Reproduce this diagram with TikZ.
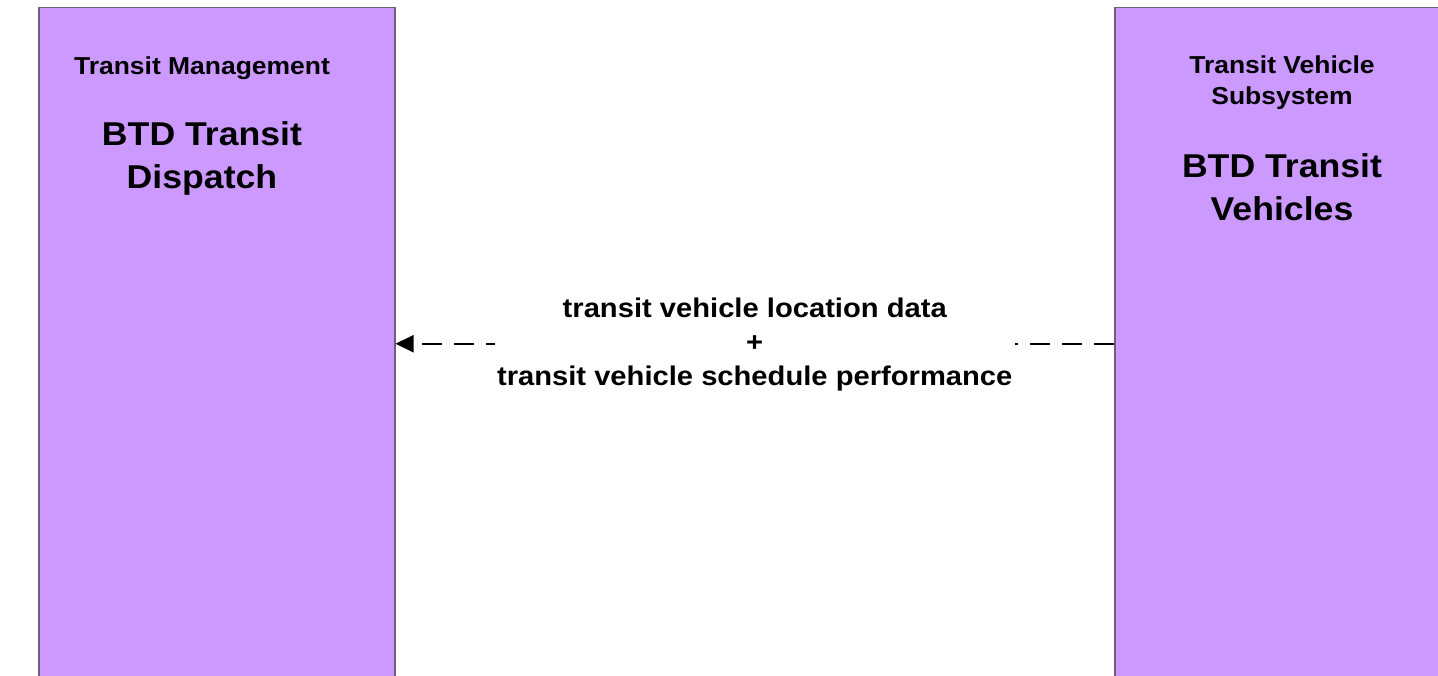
\documentclass[tikz,border=0pt]{standalone}
\usepackage{fontspec}
\setmainfont{Liberation Sans}[FakeStretch=1.08]
\usetikzlibrary{arrows.meta}
\definecolor{subsys}{HTML}{CC99FF}
\definecolor{subsysline}{HTML}{6E6078}

\begin{document}
\begin{tikzpicture}[x=1pt,y=1pt,
  box/.style={draw=subsysline, line width=1.5pt, fill=subsys, rectangle, inner sep=0pt, anchor=north west},
  cls/.style={font=\bfseries\fontsize{24.5}{31}\selectfont, align=center, anchor=base},
  ent/.style={font=\bfseries\fontsize{33}{43}\selectfont, align=center, anchor=base},
  flow/.style={line width=2pt, dash pattern=on 20pt off 12pt, -{Triangle[length=18pt,width=17pt]}},
  flowlabel/.style={fill=white, inner xsep=2.5pt, yshift=-1pt, font=\bfseries\fontsize{27}{34}\selectfont, align=center}]

\useasboundingbox (0,0) rectangle (1438,-676);
\clip (0,0) rectangle (1438,-676);

\node (dispatch) [box, minimum width=356pt, minimum height=672pt] at (38,-7) {};
\node (vehicles) [box, minimum width=340pt, minimum height=672pt] at (1114,-7) {};

% base anchor = baseline of the last line
\node (dispatchcls) [cls] at (202,-75) {Transit Management};
\node (dispatchname) [ent] at (202,-189) {BTD Transit\\Dispatch};

\node (vehiclescls) [cls] at (1282,-105) {Transit Vehicle\\Subsystem};
\node (vehiclesname) [ent] at (1282,-221) {BTD Transit\\Vehicles};

\draw [flow] (vehicles.west) -- node[flowlabel] (flowtext) {transit vehicle location data\\+\\transit vehicle schedule performance} (dispatch.east);
\end{tikzpicture}
\end{document}
